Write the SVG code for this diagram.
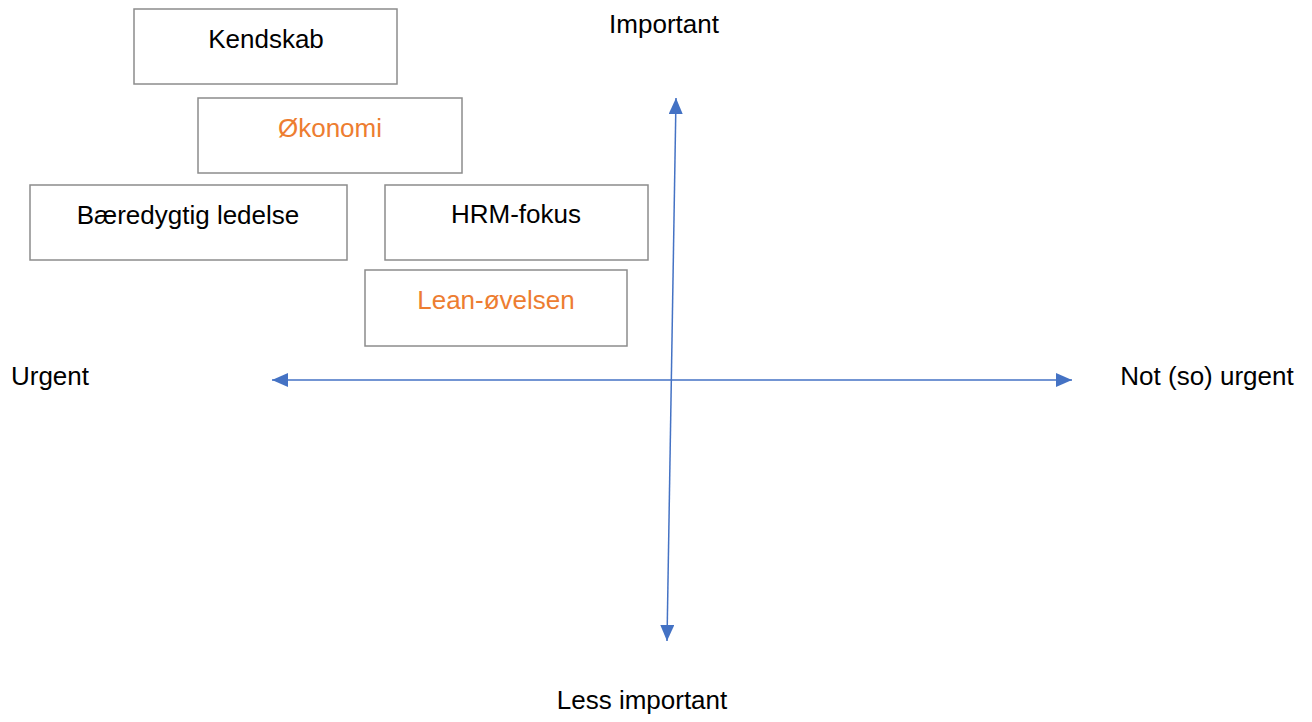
<svg xmlns="http://www.w3.org/2000/svg" width="1312" height="722" viewBox="0 0 1312 722">
<defs>
<style>
.box{fill:#fff;stroke:#8c8c8c;stroke-width:1.5}
.t{font-family:"Liberation Sans",Arial,sans-serif;font-size:26px;fill:#000;text-anchor:middle}
.o{fill:#ED7D31}
.ax{stroke:#4472C4;stroke-width:1.5;fill:none}
</style>
<marker id="ah2" viewBox="0 0 16 14" refX="16" refY="7" markerWidth="16" markerHeight="14" markerUnits="userSpaceOnUse" orient="auto-start-reverse"><path d="M0,0 L16,7 L0,14 Z" fill="#4472C4"/></marker>
</defs>
<rect width="1312" height="722" fill="#fff"/>
<g id="connectors">
<line class="ax" x1="272" y1="380" x2="1072" y2="380" marker-start="url(#ah2)" marker-end="url(#ah2)"/>
<line class="ax" x1="676" y1="98" x2="667" y2="641" marker-start="url(#ah2)" marker-end="url(#ah2)"/>
</g>
<g id="kendskab"><rect class="box" x="134" y="9" width="263" height="75"/><text class="t" x="266" y="48">Kendskab</text></g>
<g id="okonomi"><rect class="box" x="198" y="98" width="264" height="75"/><text class="t o" x="330" y="137">Økonomi</text></g>
<g id="baeredygtig"><rect class="box" x="30" y="185" width="317" height="75"/><text class="t" x="188" y="224">Bæredygtig ledelse</text></g>
<g id="hrm"><rect class="box" x="385" y="185" width="263" height="75"/><text class="t" x="516" y="223">HRM-fokus</text></g>
<g id="lean"><rect class="box" x="365" y="270" width="262" height="76"/><text class="t o" x="496" y="309">Lean-øvelsen</text></g>
<g id="labels">
<text class="t" x="664" y="33">Important</text>
<text class="t" x="50" y="385">Urgent</text>
<text class="t" x="1207" y="385">Not (so) urgent</text>
<text class="t" x="642" y="709">Less important</text>
</g>
</svg>
